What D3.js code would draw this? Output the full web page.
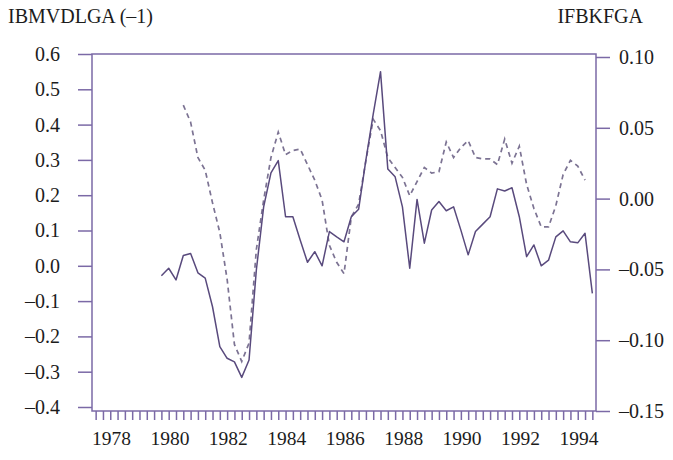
<!DOCTYPE html>
<html>
<head>
<meta charset="utf-8">
<script src="https://cdn.jsdelivr.net/npm/d3@7"></script>
<style>
  html, body { margin: 0; padding: 0; background: #ffffff; }
  svg { display: block; }
  text { font-family: "Liberation Serif", "DejaVu Serif", serif; fill: #1c1c1c; }
</style>
</head>
<body>
<svg id="chart" width="673" height="460"></svg>
<script>
// ---- Data (quarterly, 1980Q1 .. 1994Q4) ----
const startYear = 1980;
const leftTitle = "IBMVDLGA (\u20131)";
const rightTitle = "IFBKFGA";

// IBMVDLGA(-1), left axis, solid
const ibmvdlga = [
  -0.028, -0.007, -0.040, 0.029, 0.035, -0.020, -0.035, -0.116,
  -0.229, -0.262, -0.272, -0.316, -0.267, -0.012, 0.167, 0.263,
   0.298, 0.139, 0.139, 0.073, 0.010, 0.040, 0.000, 0.097,
   0.082, 0.068, 0.139, 0.160, 0.300, 0.430, 0.550, 0.274,
   0.252, 0.167, -0.007, 0.188, 0.064, 0.158, 0.182, 0.156,
   0.167, 0.101, 0.031, 0.097, 0.118, 0.139, 0.218, 0.212,
   0.221, 0.139, 0.026, 0.059, 0.000, 0.016, 0.082, 0.099,
   0.068, 0.065, 0.092, -0.078
];

// IFBKFGA, right axis, dashed
const ifbkfga = [
  null, null, null, 0.066, 0.054, 0.029, 0.020, -0.003,
  -0.024, -0.057, -0.103, -0.115, -0.102, -0.036, -0.001, 0.029,
   0.047, 0.031, 0.034, 0.035, 0.024, 0.013, -0.001, -0.033,
  -0.045, -0.053, -0.013, -0.004, 0.027, 0.056, 0.048, 0.029,
   0.022, 0.015, 0.002, 0.012, 0.022, 0.018, 0.019, 0.040,
   0.029, 0.036, 0.041, 0.029, 0.028, 0.028, 0.024, 0.042,
   0.025, 0.037, 0.010, -0.007, -0.020, -0.020, -0.005, 0.017,
   0.027, 0.023, 0.013, null
];

const leftTicks = [0.6, 0.5, 0.4, 0.3, 0.2, 0.1, 0.0, -0.1, -0.2, -0.3, -0.4];
const leftTickLabels = ["0.6", "0.5", "0.4", "0.3", "0.2", "0.1", "0.0", "\u20130.1", "\u20130.2", "\u20130.3", "\u20130.4"];
const rightTicks = [0.10, 0.05, 0.00, -0.05, -0.10, -0.15];
const rightTickLabels = ["0.10", "0.05", "0.00", "\u20130.05", "\u20130.10", "\u20130.15"];
const yearLabels = [1978, 1980, 1982, 1984, 1986, 1988, 1990, 1992, 1994];

// ---- Layout ----
const svg = d3.select("#chart");
const plot = { left: 92, right: 596, top: 54, bottom: 411 };
const axisColor = "#7b69a6";
const solidColor = "#594a7d";
const dashColor = "#7c7393";
const textColor = "#161616";

const x = d3.scaleLinear().domain([1977.75, 1995.0]).range([plot.left, plot.right]);
const yL = d3.scaleLinear().domain([-0.4, 0.6]).range([407, 54]);
const yR = d3.scaleLinear().domain([-0.15, 0.10]).range([411, 57]);

const tOf = i => startYear + i / 4 + 0.125;

// frame
svg.append("rect")
  .attr("x", plot.left).attr("y", plot.top)
  .attr("width", plot.right - plot.left).attr("height", plot.bottom - plot.top)
  .attr("fill", "none").attr("stroke", axisColor).attr("stroke-width", 1.5);

// left axis
const gL = svg.append("g").attr("transform", `translate(${plot.left},0)`)
  .call(d3.axisLeft(yL).tickValues(leftTicks).tickSize(14).tickPadding(18)
    .tickFormat((d, i) => leftTickLabels[i]));
gL.select(".domain").remove();
gL.selectAll(".tick line").attr("stroke", axisColor).attr("stroke-width", 1.5);
gL.selectAll(".tick text").attr("font-size", 20).attr("fill", textColor)
  .attr("font-family", "Liberation Serif, serif");

// right axis
const gR = svg.append("g").attr("transform", `translate(${plot.right},0)`)
  .call(d3.axisRight(yR).tickValues(rightTicks).tickSize(14).tickPadding(9)
    .tickFormat((d, i) => rightTickLabels[i]));
gR.select(".domain").remove();
gR.selectAll(".tick line").attr("stroke", axisColor).attr("stroke-width", 1.5);
gR.selectAll(".tick text").attr("font-size", 20).attr("fill", textColor)
  .attr("font-family", "Liberation Serif, serif");

// bottom quarterly ticks
const quarterTicks = d3.range(0, 69).map(k => 1977.875 + k * 0.25);
const gB = svg.append("g").attr("transform", `translate(0,${plot.bottom})`)
  .call(d3.axisBottom(x).tickValues(quarterTicks).tickSize(9).tickFormat(""));
gB.select(".domain").remove();
gB.selectAll(".tick line").attr("stroke", axisColor).attr("stroke-width", 1.5);

// year labels
const gY = svg.append("g").attr("transform", `translate(0,${plot.bottom})`)
  .call(d3.axisBottom(x).tickValues(yearLabels.map(y => y + 0.4)).tickSize(0).tickPadding(20)
    .tickFormat(d => String(Math.floor(d))));
gY.select(".domain").remove();
gY.selectAll(".tick text").attr("font-size", 19.5).attr("fill", textColor)
  .attr("font-family", "Liberation Serif, serif");

// titles
svg.append("text").attr("x", 8).attr("y", 23).attr("font-size", 20).attr("fill", textColor).text(leftTitle);
svg.append("text").attr("x", 643).attr("y", 23).attr("font-size", 20).attr("fill", textColor)
  .attr("text-anchor", "end").text(rightTitle);

// lines
const lineL = d3.line().defined(d => d != null).x((d, i) => x(tOf(i))).y(d => yL(d));
const lineR = d3.line().defined(d => d != null).x((d, i) => x(tOf(i))).y(d => yR(d));

svg.append("path").datum(ifbkfga).attr("d", lineR)
  .attr("fill", "none").attr("stroke", dashColor).attr("stroke-width", 1.7)
  .attr("stroke-dasharray", "5,4");

svg.append("path").datum(ibmvdlga).attr("d", lineL)
  .attr("fill", "none").attr("stroke", solidColor).attr("stroke-width", 1.5)
  .attr("stroke-linejoin", "round");
</script>
</body>
</html>
